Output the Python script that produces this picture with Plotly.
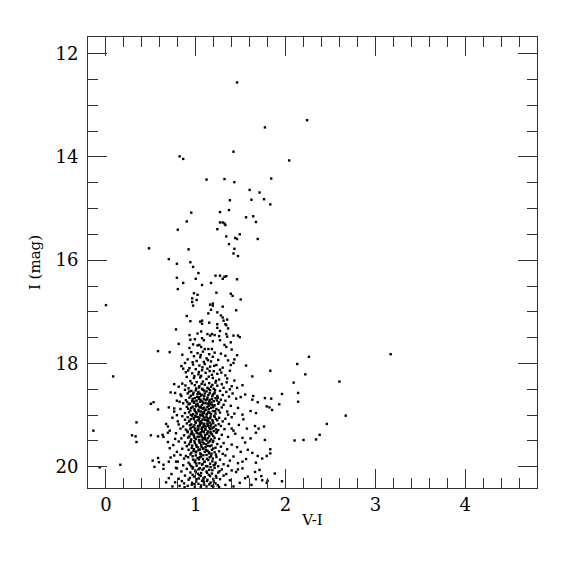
import plotly.graph_objects as go

# ---- data: (V-I, I) pairs, grouped by region ----
bright_pts = [
    (1.46, 12.56), (1.77, 13.43), (2.24, 13.29), (0.82, 13.99), (0.86, 14.04),
    (1.42, 13.90), (2.04, 14.07), (1.12, 14.44), (1.32, 14.43), (1.43, 14.49),
    (1.84, 14.42), (1.60, 14.64), (1.71, 14.69), (1.62, 14.83), (1.76, 14.82),
    (1.83, 14.92), (1.38, 14.84), (0.95, 15.08), (1.27, 15.07), (1.37, 15.03),
    (1.56, 15.17), (1.64, 15.15), (1.67, 15.26), (0.90, 15.25), (1.27, 15.27),
    (1.30, 15.27), (1.32, 15.29), (1.33, 15.32), (0.80, 15.41), (1.24, 15.40),
    (1.49, 15.50), (1.34, 15.54), (1.44, 15.57), (1.46, 15.59), (1.69, 15.59),
    (1.37, 15.69), (0.48, 15.77), (0.92, 15.79), (1.43, 15.78),
]

rgb_pts = [
    (1.42, 15.87), (1.47, 15.92), (0.70, 15.98), (0.79, 16.07), (0.94, 16.04),
    (0.97, 16.13), (1.03, 16.25), (1.22, 16.30), (1.27, 16.30), (1.32, 16.32),
    (1.34, 16.31), (1.30, 16.36), (0.79, 16.34), (1.00, 16.36), (1.46, 16.37),
    (0.86, 16.44), (1.17, 16.44), (1.07, 16.48), (0.80, 16.56), (0.98, 16.64),
    (1.02, 16.67), (1.23, 16.63), (1.39, 16.65), (1.41, 16.69), (1.50, 16.76),
    (0.96, 16.74), (0.96, 16.81), (1.01, 16.77), (0.97, 16.88), (1.16, 16.86),
    (1.19, 16.84), (1.19, 16.88), (1.30, 16.90), (1.45, 16.97), (1.17, 16.96),
    (1.14, 17.03), (1.24, 17.01), (1.28, 17.07), (0.90, 17.08), (1.30, 17.11),
    (1.35, 17.15), (0.94, 17.18), (1.05, 17.19), (1.07, 17.17), (1.07, 17.23),
    (1.15, 17.21), (1.24, 17.24), (1.31, 17.17), (1.33, 17.24), (1.34, 17.26),
    (1.24, 17.31), (1.36, 17.32), (0.78, 17.34), (1.06, 17.38), (1.27, 17.37),
    (0.93, 17.45), (1.02, 17.42), (1.13, 17.43), (1.16, 17.46), (1.18, 17.43),
    (1.21, 17.45), (1.26, 17.47), (1.34, 17.43), (1.35, 17.48), (1.42, 17.46),
    (1.47, 17.46), (1.49, 17.49), (0.94, 17.54), (0.99, 17.53), (1.07, 17.51),
    (1.09, 17.55), (1.19, 17.57), (1.27, 17.55), (0.81, 17.62), (0.97, 17.63),
    (1.02, 17.65), (1.04, 17.64), (1.32, 17.64), (1.39, 17.59), (1.34, 17.68),
    (0.93, 17.70), (1.06, 17.68), (1.10, 17.72), (1.14, 17.72), (1.18, 17.72),
    (1.40, 17.73), (0.58, 17.76), (0.71, 17.78), (0.85, 17.83), (0.84, 18.05),
    (1.46, 17.84), (1.43, 17.92), (1.39, 18.03),
]

blue_pts = [
    (0.00, 16.87), (0.08, 18.25), (-0.14, 19.30), (-0.07, 20.01), (0.16, 19.96),
    (0.76, 18.40), (0.72, 18.56), (0.77, 18.57), (0.83, 18.60), (0.50, 18.78),
    (0.53, 18.75), (0.58, 18.89), (0.70, 18.85), (0.76, 18.87), (0.82, 18.74),
    (0.79, 19.00), (0.34, 19.14), (0.29, 19.39), (0.33, 19.41), (0.34, 19.52),
    (0.50, 19.39), (0.58, 19.41), (0.63, 19.38), (0.64, 19.42), (0.69, 19.34),
    (0.71, 19.30), (0.67, 19.17), (0.69, 19.22), (0.69, 19.52), (0.52, 19.88),
    (0.54, 20.00), (0.58, 19.83), (0.59, 19.91), (0.64, 19.96), (0.64, 20.04),
    (0.70, 19.90), (0.67, 20.30), (0.79, 20.03), (0.78, 19.90),
    (0.74, 19.05), (0.77, 19.46), (0.71, 19.64), (0.76, 19.78), (0.70, 20.22),
    (0.82, 20.37), (0.74, 20.38), (0.81, 19.18),
]

red_pts = [
    (3.17, 17.82), (2.26, 17.87), (2.13, 18.01), (2.22, 18.21), (2.60, 18.35),
    (2.09, 18.37), (2.14, 18.57), (2.14, 18.74), (2.67, 19.01), (2.46, 19.17),
    (2.38, 19.38), (2.34, 19.47), (2.20, 19.48), (2.10, 19.49), (1.56, 18.04),
    (1.63, 18.25), (1.83, 18.14), (1.96, 18.59), (1.46, 18.47), (1.55, 18.60),
    (1.50, 18.65), (1.64, 18.63), (1.63, 18.70), (1.69, 18.75), (1.77, 18.67),
    (1.84, 18.68), (1.79, 18.83), (1.82, 18.85), (1.85, 18.90), (1.93, 18.79),
    (1.61, 18.92), (1.67, 18.96), (1.52, 18.99), (1.66, 19.21), (1.70, 19.26),
    (1.76, 19.22), (1.67, 19.34), (1.61, 19.45), (1.77, 19.48), (1.83, 19.66),
    (1.83, 19.74), (1.79, 19.79), (1.74, 19.84), (1.69, 19.79), (1.63, 19.73),
    (1.67, 19.92), (1.71, 20.06), (1.73, 20.18), (1.74, 20.26), (1.67, 20.24),
    (1.80, 20.27), (1.79, 20.31), (1.88, 20.13), (1.96, 20.28), (1.66, 20.10),
    (1.38, 18.50), (1.47, 18.86), (1.53, 19.08), (1.44, 19.36), (1.58, 19.67),
    (1.52, 19.90), (1.62, 20.35), (1.55, 20.22), (1.47, 20.05), (1.40, 19.26),
    (1.36, 18.99), (1.57, 19.26),
]

core_pts = [
    (0.95, 17.78), (1.02, 17.80), (1.08, 17.77), (1.15, 17.82), (1.21, 17.79),
    (1.28, 17.81), (1.33, 17.85), (0.98, 17.86), (1.05, 17.88), (1.12, 17.90),
    (1.19, 17.87), (1.25, 17.93), (0.91, 17.92), (1.01, 17.95), (1.09, 17.97),
    (1.17, 17.96), (1.36, 17.94), (1.42, 17.99), (0.88, 17.99),
    (0.97, 18.02), (1.04, 18.04), (1.10, 18.01), (1.16, 18.06), (1.23, 18.03),
    (1.30, 18.08), (0.93, 18.09), (1.00, 18.11), (1.07, 18.13), (1.13, 18.10),
    (1.20, 18.15), (1.27, 18.12), (1.38, 18.14), (0.89, 18.17), (0.96, 18.19),
    (1.03, 18.21), (1.11, 18.18), (1.18, 18.22), (1.24, 18.20), (1.33, 18.23),
    (1.06, 18.24), (0.86, 18.10),
    (0.90, 18.26), (0.98, 18.28), (1.05, 18.27), (1.12, 18.30), (1.19, 18.28),
    (1.26, 18.31), (1.35, 18.29), (1.43, 18.33), (0.94, 18.34), (1.01, 18.36),
    (1.08, 18.35), (1.15, 18.38), (1.22, 18.37), (1.29, 18.40), (0.85, 18.39),
    (0.99, 18.42), (1.04, 18.44), (1.10, 18.41), (1.17, 18.45), (1.24, 18.43),
    (1.31, 18.47), (1.40, 18.44), (0.92, 18.48), (1.07, 18.49), (1.13, 18.47),
    (1.20, 18.49), (1.52, 18.42), (0.81, 18.45),
    (0.88, 18.51), (0.95, 18.53), (1.00, 18.52), (1.03, 18.55), (1.08, 18.51),
    (1.12, 18.54), (1.16, 18.52), (1.21, 18.56), (1.27, 18.53), (1.34, 18.55),
    (1.41, 18.58), (0.91, 18.58), (0.97, 18.60), (1.02, 18.59), (1.06, 18.62),
    (1.10, 18.58), (1.14, 18.61), (1.19, 18.60), (1.24, 18.63), (1.30, 18.61),
    (1.37, 18.64), (0.84, 18.63), (0.93, 18.66), (0.99, 18.67), (1.04, 18.65),
    (1.09, 18.68), (1.13, 18.66), (1.18, 18.69), (1.22, 18.67), (1.28, 18.70),
    (1.45, 18.68), (0.89, 18.71), (0.96, 18.73), (1.01, 18.72), (1.05, 18.74),
    (1.11, 18.71), (1.15, 18.74), (1.20, 18.73), (1.26, 18.75), (1.33, 18.72),
    (0.79, 18.72),
    (0.86, 18.77), (0.92, 18.79), (0.98, 18.76), (1.02, 18.78), (1.07, 18.80),
    (1.11, 18.77), (1.16, 18.79), (1.21, 18.81), (1.25, 18.78), (1.31, 18.80),
    (1.39, 18.82), (0.90, 18.84), (0.95, 18.86), (1.00, 18.83), (1.04, 18.85),
    (1.08, 18.87), (1.13, 18.84), (1.17, 18.86), (1.23, 18.88), (1.29, 18.85),
    (0.83, 18.88), (0.94, 18.91), (0.99, 18.92), (1.03, 18.90), (1.06, 18.93),
    (1.10, 18.91), (1.14, 18.94), (1.19, 18.92), (1.27, 18.95), (1.35, 18.93),
    (0.88, 18.96), (0.97, 18.98), (1.01, 18.97), (1.05, 18.99), (1.09, 18.96),
    (1.12, 18.99), (1.17, 18.98), (1.22, 18.97), (1.43, 18.97), (0.76, 18.93),
    (0.85, 19.02), (0.91, 19.04), (0.96, 19.01), (1.00, 19.03), (1.04, 19.05),
    (1.08, 19.02), (1.12, 19.04), (1.16, 19.06), (1.21, 19.03), (1.26, 19.05),
    (1.33, 19.07), (1.40, 19.04), (0.88, 19.09), (0.93, 19.11), (0.98, 19.08),
    (1.02, 19.10), (1.06, 19.12), (1.10, 19.09), (1.14, 19.11), (1.19, 19.13),
    (1.24, 19.10), (1.30, 19.12), (0.80, 19.12), (0.90, 19.16), (0.95, 19.18),
    (1.00, 19.15), (1.05, 19.17), (1.09, 19.19), (1.13, 19.16), (1.17, 19.18),
    (1.22, 19.20), (1.37, 19.17), (0.86, 19.22), (0.97, 19.23), (1.03, 19.21),
    (1.07, 19.24), (1.11, 19.22), (1.15, 19.24), (1.20, 19.23), (1.28, 19.21),
    (1.48, 19.19),
    (0.83, 19.26), (0.89, 19.28), (0.94, 19.27), (0.99, 19.29), (1.03, 19.26),
    (1.07, 19.30), (1.11, 19.28), (1.16, 19.27), (1.20, 19.31), (1.25, 19.29),
    (1.32, 19.27), (1.42, 19.30), (0.91, 19.33), (0.96, 19.35), (1.01, 19.34),
    (1.05, 19.36), (1.09, 19.33), (1.13, 19.35), (1.18, 19.37), (1.23, 19.34),
    (1.29, 19.38), (0.78, 19.35), (0.87, 19.39), (0.93, 19.41), (0.98, 19.40),
    (1.02, 19.42), (1.06, 19.39), (1.10, 19.43), (1.15, 19.41), (1.21, 19.44),
    (1.36, 19.42), (0.84, 19.45), (0.95, 19.47), (1.00, 19.46), (1.04, 19.48),
    (1.08, 19.45), (1.12, 19.49), (1.17, 19.47), (1.26, 19.46), (1.52, 19.44),
    (0.81, 19.51), (0.88, 19.53), (0.94, 19.52), (0.99, 19.54), (1.04, 19.51),
    (1.09, 19.55), (1.14, 19.53), (1.19, 19.52), (1.24, 19.56), (1.31, 19.54),
    (1.40, 19.57), (1.55, 19.53), (0.75, 19.58), (0.90, 19.60), (0.96, 19.59),
    (1.01, 19.61), (1.06, 19.58), (1.11, 19.62), (1.16, 19.60), (1.22, 19.63),
    (1.28, 19.61), (1.46, 19.62), (0.85, 19.65), (0.92, 19.67), (0.98, 19.66),
    (1.03, 19.68), (1.08, 19.65), (1.13, 19.69), (1.18, 19.67), (1.26, 19.70),
    (1.35, 19.66), (0.79, 19.71), (0.95, 19.73), (1.00, 19.72), (1.05, 19.74),
    (1.10, 19.71), (1.15, 19.74), (1.21, 19.72), (1.30, 19.75), (1.50, 19.71),
    (0.83, 19.77), (0.89, 19.79), (0.94, 19.76), (1.00, 19.78), (1.06, 19.80),
    (1.12, 19.77), (1.17, 19.79), (1.23, 19.81), (1.33, 19.78), (1.42, 19.80),
    (0.72, 19.82), (0.87, 19.84), (0.97, 19.86), (1.02, 19.83), (1.08, 19.85),
    (1.14, 19.87), (1.19, 19.84), (1.27, 19.86), (1.38, 19.88), (1.56, 19.85),
    (0.80, 19.90), (0.92, 19.92), (0.99, 19.91), (1.04, 19.93), (1.10, 19.90),
    (1.16, 19.94), (1.22, 19.92), (1.31, 19.95), (1.47, 19.93), (0.86, 19.97),
    (0.95, 19.99), (1.01, 19.98), (1.07, 19.96), (1.13, 19.99), (1.20, 19.97),
    (1.25, 19.99), (1.36, 19.98),
    (0.78, 20.02), (0.90, 20.04), (0.97, 20.01), (1.03, 20.05), (1.09, 20.03),
    (1.15, 20.06), (1.21, 20.02), (1.29, 20.05), (1.40, 20.07), (1.52, 20.03),
    (0.84, 20.09), (0.94, 20.11), (1.00, 20.10), (1.06, 20.12), (1.12, 20.09),
    (1.18, 20.13), (1.25, 20.11), (1.34, 20.14), (1.45, 20.10), (0.73, 20.14),
    (0.88, 20.17), (0.98, 20.19), (1.04, 20.16), (1.10, 20.20), (1.16, 20.18),
    (1.23, 20.21), (1.31, 20.17), (1.58, 20.19), (0.81, 20.23), (0.92, 20.25),
    (1.01, 20.24), (1.07, 20.27), (1.13, 20.25), (1.20, 20.28), (1.27, 20.24),
    (1.38, 20.26), (0.77, 20.30), (0.87, 20.32), (0.96, 20.31), (1.03, 20.33),
    (1.09, 20.30), (1.15, 20.34), (1.22, 20.32), (1.33, 20.35), (1.49, 20.31),
    (0.91, 20.37), (0.99, 20.39), (1.06, 20.36), (1.12, 20.38), (1.18, 20.37),
    (1.26, 20.39), (1.42, 20.38),
]

core_extra_pts = [
    (1.055, 17.835), (1.135, 17.935), (0.965, 17.975), (1.205, 18.045), (1.075, 18.075),
    (0.915, 18.135), (1.155, 18.145), (1.035, 18.165), (1.285, 18.175), (0.985, 18.245),
    (1.145, 18.255), (1.225, 18.335), (0.955, 18.385), (1.065, 18.395), (1.345, 18.365),
    (1.185, 18.415), (0.885, 18.425),
    (1.035, 18.465), (1.095, 18.525), (0.975, 18.565), (1.155, 18.575), (1.065, 18.605),
    (1.185, 18.635), (0.945, 18.625), (1.015, 18.645), (1.125, 18.695), (1.055, 18.705),
    (0.985, 18.735), (1.175, 18.755), (1.235, 18.715), (1.085, 18.765), (0.935, 18.775),
    (1.145, 18.815), (1.025, 18.815), (0.965, 18.835), (1.195, 18.845), (1.065, 18.865),
    (1.115, 18.895), (0.915, 18.875), (1.255, 18.905), (1.005, 18.945), (1.155, 18.955),
    (1.075, 18.985), (0.945, 18.995), (1.205, 19.015), (1.025, 19.035), (1.135, 19.065),
    (0.975, 19.055), (1.075, 19.085), (1.185, 19.095), (0.925, 19.125), (1.045, 19.135),
    (1.155, 19.145), (1.095, 19.165), (0.985, 19.195), (1.255, 19.175), (1.025, 19.215),
    (1.135, 19.205), (0.945, 19.245), (1.065, 19.265), (1.185, 19.255), (1.005, 19.305),
    (1.135, 19.315), (0.905, 19.305), (1.055, 19.335), (1.235, 19.325), (0.975, 19.375),
    (1.105, 19.385), (1.165, 19.355), (1.035, 19.415), (0.915, 19.435), (1.135, 19.445),
    (1.075, 19.475), (0.985, 19.505), (1.195, 19.495), (1.045, 19.535), (1.115, 19.565),
    (0.925, 19.565), (1.175, 19.585), (1.025, 19.625), (1.085, 19.645), (0.975, 19.695),
    (1.145, 19.715), (1.055, 19.755), (1.225, 19.765), (0.915, 19.815), (1.045, 19.815),
    (1.125, 19.845), (0.995, 19.875), (1.185, 19.895), (1.075, 19.945), (0.935, 19.955),
    (1.165, 20.005), (1.045, 20.025), (0.995, 20.075), (1.125, 20.115), (1.265, 20.085),
    (1.055, 20.175), (0.935, 20.215), (1.195, 20.235), (1.085, 20.265), (1.005, 20.285),
    (1.165, 20.305), (0.845, 20.275), (1.245, 20.355), (1.055, 20.395), (0.955, 20.345),
]

core_dense_pts = [
    (1.005, 18.485), (1.145, 18.495), (1.215, 18.515), (0.925, 18.545), (1.045, 18.585),
    (1.205, 18.585), (1.095, 18.625), (0.965, 18.685), (1.035, 18.685), (1.155, 18.705),
    (1.245, 18.665), (0.905, 18.745), (1.075, 18.735), (1.135, 18.775), (1.005, 18.795),
    (1.055, 18.835), (1.185, 18.805), (1.095, 18.855), (0.985, 18.885), (1.145, 18.885),
    (1.035, 18.925), (1.215, 18.925), (0.925, 18.945), (1.085, 18.945), (1.125, 18.975),
    (0.995, 19.015), (1.055, 19.005), (1.165, 19.025), (1.095, 19.045), (0.945, 19.075),
    (1.035, 19.085), (1.225, 19.075), (1.125, 19.105), (0.995, 19.125), (1.065, 19.155),
    (1.195, 19.155), (1.135, 19.185), (0.935, 19.195), (1.045, 19.195), (1.085, 19.225),
    (0.995, 19.255), (1.165, 19.215), (1.105, 19.265), (1.025, 19.285), (1.225, 19.275),
    (0.955, 19.315), (1.085, 19.315), (1.165, 19.325), (1.025, 19.355), (0.945, 19.365),
    (1.125, 19.365), (1.065, 19.415), (1.195, 19.405), (0.985, 19.435), (1.105, 19.465),
    (1.035, 19.485), (0.945, 19.505), (1.155, 19.505), (1.075, 19.525), (1.005, 19.575),
    (1.135, 19.595), (1.065, 19.615), (0.955, 19.635), (1.195, 19.645), (1.045, 19.665),
    (1.115, 19.675), (1.005, 19.705), (1.175, 19.745), (1.085, 19.775), (0.965, 19.795),
    (1.035, 19.855), (1.155, 19.815), (1.095, 19.905), (1.005, 19.935), (1.215, 19.955),
    (1.115, 19.985), (0.965, 20.035), (1.075, 20.055), (1.185, 20.065), (1.025, 20.135),
    (1.145, 20.155), (0.965, 20.155), (1.085, 20.225), (1.225, 20.175), (1.035, 20.225),
    (1.125, 20.275), (0.985, 20.335), (1.195, 20.385), (1.095, 20.345), (0.875, 20.395),
]

x_tick_vals = [0, 1, 2, 3, 4]
y_tick_vals = [12, 14, 16, 18, 20]

all_pts = (bright_pts + rgb_pts + blue_pts + red_pts
           + core_pts + core_extra_pts + core_dense_pts)
v_minus_i = [p[0] for p in all_pts]
i_mag = [p[1] for p in all_pts]

AX = "#333333"
FONT = "DejaVu Serif"

fig = go.Figure()
fig.add_trace(go.Scatter(
    x=v_minus_i, y=i_mag, mode="markers",
    marker=dict(symbol="square", size=2.4, color="black", line=dict(width=0)),
    hoverinfo="skip",
))

axis_common = dict(
    showline=True, linecolor=AX, linewidth=1, mirror="ticks",
    ticks="inside", tickcolor=AX, tickwidth=1, ticklen=19,
    showgrid=False, zeroline=False,
    tickfont=dict(family=FONT, size=18, color="black"),
)

fig.update_xaxes(
    range=[-0.2, 4.8], tickmode="array", tickvals=x_tick_vals,
    ticktext=[str(v) for v in x_tick_vals],
    minor=dict(ticks="inside", ticklen=10, tickcolor=AX, tickwidth=1,
               dtick=0.2, tick0=0, showgrid=False),
    title=dict(text="V-I", font=dict(family=FONT, size=15, color="black"), standoff=0),
    **axis_common,
)
fig.update_yaxes(
    range=[20.41, 11.68], tickmode="array", tickvals=y_tick_vals,
    ticktext=[str(v) for v in y_tick_vals],
    ticklabelstandoff=5,
    minor=dict(ticks="inside", ticklen=10, tickcolor=AX, tickwidth=1,
               dtick=0.5, tick0=0, showgrid=False),
    title=dict(text="I (mag)", font=dict(family=FONT, size=15, color="black"), standoff=11),
    **axis_common,
)

fig.update_layout(
    width=575, height=575,
    margin=dict(l=80, r=46, t=29, b=95),
    plot_bgcolor="white", paper_bgcolor="white",
    showlegend=False,
    font=dict(family=FONT, color="black"),
)

fig.write_html("out.html")
